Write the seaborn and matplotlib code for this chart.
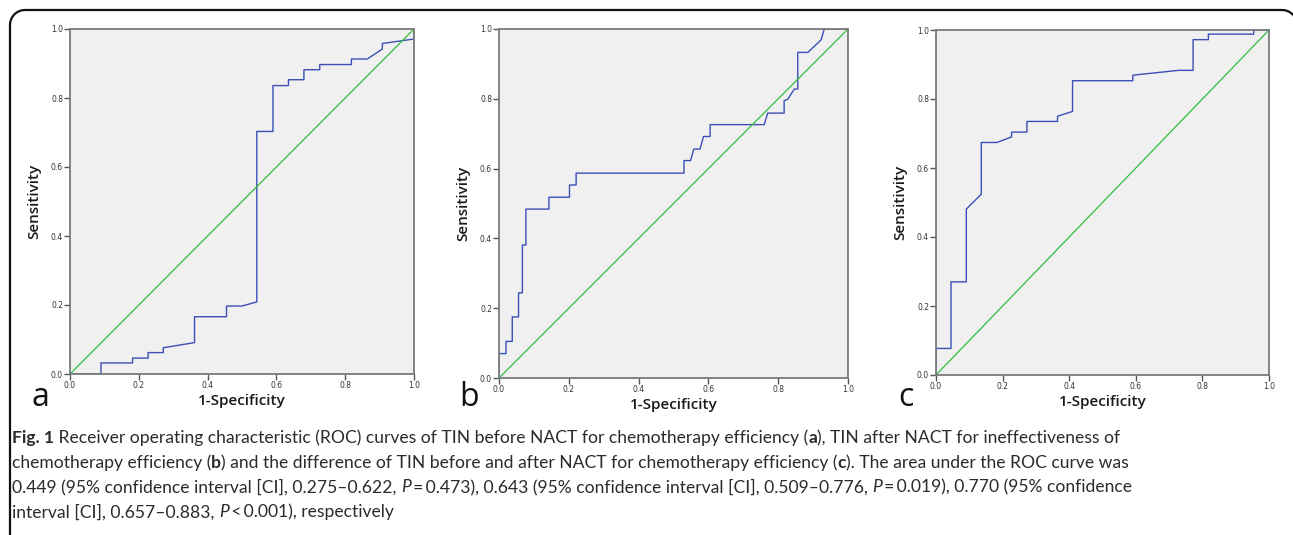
import numpy as np
import pandas as pd
import seaborn as sns
import matplotlib.pyplot as plt

# ROC curve points (1-specificity, sensitivity)
a_fpr = [0, 0.090, 0.090, 0.182, 0.182, 0.227, 0.227, 0.271, 0.271, 0.362, 0.362, 0.455, 0.455, 0.500, 0.543, 0.543,
         0.590, 0.590, 0.635, 0.635, 0.680, 0.680, 0.726, 0.726, 0.818, 0.818, 0.864, 0.908, 0.908, 1.0, 1.0]
a_tpr = [0, 0, 0.032, 0.032, 0.046, 0.046, 0.062, 0.062, 0.076, 0.091, 0.166, 0.166, 0.197, 0.197, 0.209, 0.703,
         0.703, 0.836, 0.836, 0.853, 0.853, 0.882, 0.882, 0.897, 0.897, 0.913, 0.913, 0.942, 0.958, 0.971, 1.0]

b_fpr = [0, 0, 0.020, 0.020, 0.038, 0.038, 0.056, 0.056, 0.067, 0.067, 0.077, 0.077, 0.143, 0.143, 0.202, 0.202,
         0.221, 0.221, 0.530, 0.530, 0.549, 0.558, 0.576, 0.586, 0.605, 0.605, 0.760, 0.770, 0.817, 0.817, 0.827,
         0.846, 0.856, 0.856, 0.885, 0.923, 0.932, 1.0]
b_tpr = [0, 0.070, 0.070, 0.105, 0.105, 0.175, 0.175, 0.244, 0.244, 0.381, 0.381, 0.484, 0.484, 0.518, 0.518, 0.553,
         0.553, 0.587, 0.587, 0.623, 0.623, 0.656, 0.656, 0.692, 0.692, 0.726, 0.726, 0.759, 0.759, 0.795, 0.798,
         0.828, 0.828, 0.933, 0.933, 0.969, 1.0, 1.0]

c_fpr = [0, 0, 0.045, 0.045, 0.091, 0.091, 0.136, 0.136, 0.183, 0.227, 0.227, 0.273, 0.273, 0.365, 0.365, 0.410,
         0.410, 0.591, 0.591, 0.728, 0.772, 0.772, 0.818, 0.818, 0.954, 0.954, 1.0]
c_tpr = [0, 0.077, 0.077, 0.270, 0.270, 0.481, 0.524, 0.674, 0.674, 0.690, 0.704, 0.704, 0.735, 0.735, 0.750, 0.764,
         0.853, 0.853, 0.869, 0.883, 0.883, 0.972, 0.972, 0.988, 0.988, 1.0, 1.0]

panel_letters = ["a", "b", "c"]
ref_line = [0, 1]
ticks = [0.0, 0.2, 0.4, 0.6, 0.8, 1.0]

caption = [
    [("Fig. 1", "bold"), (" Receiver operating characteristic (ROC) curves of TIN before NACT for chemotherapy efficiency (", "n"),
     ("a", "bold"), ("), TIN after NACT for ineffectiveness of", "n")],
    [("chemotherapy efficiency (", "n"), ("b", "bold"),
     (") and the difference of TIN before and after NACT for chemotherapy efficiency (", "n"), ("c", "bold"),
     ("). The area under the ROC curve was", "n")],
    [("0.449 (95% confidence interval [CI], 0.275\u20130.622, ", "n"), ("P", "it"),
     ("\u2009=\u20090.473), 0.643 (95% confidence interval [CI], 0.509\u20130.776, ", "n"), ("P", "it"),
     ("\u2009=\u20090.019), 0.770 (95% confidence", "n")],
    [("interval [CI], 0.657\u20130.883, ", "n"), ("P", "it"), ("\u2009<\u20090.001), respectively", "n")],
]

W, H = 1293, 535
fig = plt.figure(figsize=(W / 100, H / 100), dpi=100)
fig.patch.set_facecolor("white")

# outer frame in pixel coords: rounded top corners, right side lies past the image edge
bg = fig.add_axes([0, 0, 1, 1], zorder=-1)
bg.set_xlim(0, W)
bg.set_ylim(H, 0)
bg.axis("off")
rad = 15
th1 = np.linspace(np.pi, 1.5 * np.pi, 20)
th2 = np.linspace(1.5 * np.pi, 2 * np.pi, 20)
fx_ = np.concatenate([[10], 10 + rad + rad * np.cos(th1), 1297 - rad + rad * np.cos(th2), [1297]])
fy_ = np.concatenate([[600], 10 + rad + rad * np.sin(th1), 10 + rad + rad * np.sin(th2), [600]])
bg.plot(fx_, fy_, color="#111111", lw=1.6, clip_on=False)

# axes boxes in pixels: left, top, right, bottom
boxes = [(70, 29, 414, 374), (499, 29, 848, 378), (936, 30, 1269, 375)]
curves = [(a_fpr, a_tpr), (b_fpr, b_tpr), (c_fpr, c_tpr)]

for (l, t, r, b), (fx, ty), letter in zip(boxes, curves, panel_letters):
    ax = fig.add_axes([l / W, 1 - b / H, (r - l) / W, (b - t) / H])
    ax.set_facecolor("#f0f0f0")
    df = pd.DataFrame({"fpr": fx, "tpr": ty})
    sns.lineplot(data=df, x="fpr", y="tpr", sort=False, estimator=None, color="#3a4fb8", lw=1.0, ax=ax)
    sns.lineplot(x=ref_line, y=ref_line, color="#2fbf3a", lw=0.9, ax=ax)
    ax.set_xlim(0, 1)
    ax.set_ylim(0, 1)
    ax.set_xticks(ticks)
    ax.set_yticks(ticks)
    ax.set_xticklabels([f"{v:.1f}" for v in ticks])
    ax.set_yticklabels([f"{v:.1f}" for v in ticks])
    ax.tick_params(direction="out", length=4, width=1, color="#555555", labelsize=5.5,
                   labelcolor="#333333", pad=1)
    for s in ax.spines.values():
        s.set_color("#7a7a7a")
        s.set_linewidth(1.3)
    ax.set_xlabel("1-Specificity", fontsize=11, fontfamily="Open Sans", fontweight="semibold",
                  color="#1a1a1a", labelpad=3)
    ax.set_ylabel("Sensitivity", fontsize=11, fontfamily="Open Sans", fontweight="semibold",
                  color="#1a1a1a", labelpad=7)
    fig.text((l - 30) / W, 1 - 397 / H, letter, fontsize=23, fontfamily="Open Sans",
             ha="center", va="center", color="#111111")

# caption with mixed styles
fig.canvas.draw()
renderer = fig.canvas.get_renderer()
line_y = [438, 463, 487, 512]
cap_size = 12.6
for runs, y in zip(caption, line_y):
    x = 12
    for txt, style in runs:
        kw = dict(fontsize=cap_size, fontfamily="Lato", color="#2b2b2b", va="center", ha="left")
        kw["fontweight"] = "bold" if style == "bold" else "normal"
        if style == "it":
            kw["fontstyle"] = "italic"
        tt = fig.text(x / W, 1 - y / H, txt, **kw)
        bb = tt.get_window_extent(renderer)
        x += bb.width

fig.savefig("out.png", dpi=100)
